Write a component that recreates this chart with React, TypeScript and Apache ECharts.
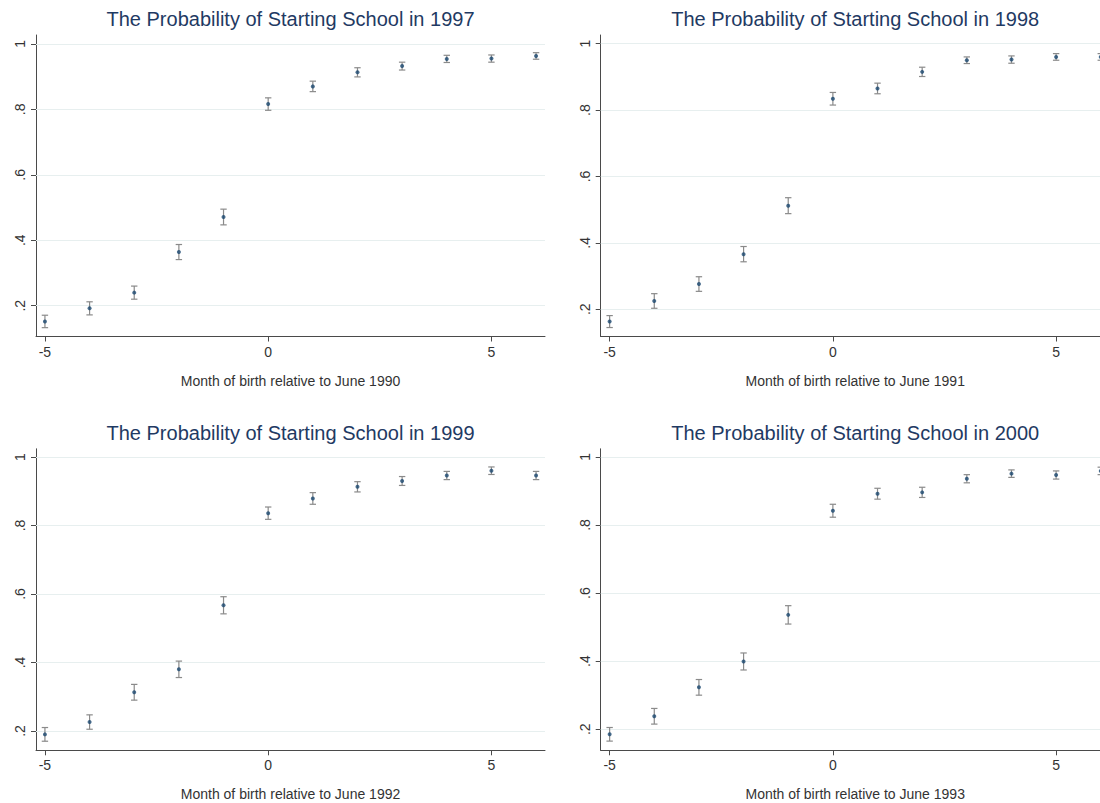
import React, { useEffect, useRef } from "react";
import * as echarts from "echarts";

// ---- data ----
const months = [-5, -4, -3, -2, -1, 0, 1, 2, 3, 4, 5, 6];
const startYears = ["1997", "1998", "1999", "2000"];
const birthYears = ["1990", "1991", "1992", "1993"];

const p1997 = [0.152, 0.192, 0.240, 0.364, 0.471, 0.816, 0.870, 0.913, 0.932, 0.954, 0.955, 0.963];
const ci1997 = [0.019, 0.020, 0.020, 0.023, 0.024, 0.019, 0.016, 0.014, 0.012, 0.011, 0.011, 0.010];
const p1998 = [0.163, 0.225, 0.276, 0.366, 0.512, 0.834, 0.865, 0.915, 0.950, 0.952, 0.960, 0.960];
const ci1998 = [0.018, 0.022, 0.022, 0.023, 0.024, 0.019, 0.016, 0.014, 0.010, 0.011, 0.010, 0.010];
const p1999 = [0.190, 0.226, 0.313, 0.380, 0.567, 0.836, 0.879, 0.913, 0.930, 0.946, 0.960, 0.946];
const ci1999 = [0.020, 0.021, 0.023, 0.024, 0.025, 0.018, 0.017, 0.015, 0.013, 0.012, 0.011, 0.012];
const p2000 = [0.185, 0.238, 0.323, 0.399, 0.536, 0.842, 0.892, 0.896, 0.936, 0.951, 0.947, 0.959];
const ci2000 = [0.020, 0.023, 0.023, 0.025, 0.027, 0.019, 0.016, 0.015, 0.012, 0.011, 0.012, 0.011];

const xTicks = [-5, 0, 5];
const yTicks = [0.2, 0.4, 0.6, 0.8, 1];

const probs = [p1997, p1998, p1999, p2000];
const cis = [ci1997, ci1998, ci1999, ci2000];

// ---- layout ----
const FONT = '"Liberation Sans", Arial, Helvetica, sans-serif';
const GRID_W = 509;
const GRID_H = 301.5;
const panels = [
  { left: 36, top: 35, yMin: 0.106, yMax: 1.027 },
  { left: 600.7, top: 35, yMin: 0.118, yMax: 1.026 },
  { left: 36, top: 448.8, yMin: 0.1435, yMax: 1.024 },
  { left: 600.7, top: 448.8, yMin: 0.138, yMax: 1.024 },
];

const AXIS_COLOR = "#4a4a4a";
const LABEL_COLOR = "#333333";
const GRIDLINE_COLOR = "#e7efef";
const BAR_COLOR = "#8a8a8a";
const DOT_COLOR = "#1a476f";
const TITLE_COLOR = "#1f3a63";

function fmtY(v: number): string {
  let s = Number(v).toFixed(1);
  if (s.endsWith(".0")) s = s.slice(0, -2);
  if (s.startsWith("0.")) s = s.slice(1);
  return s;
}

export default function App() {
  const ref = useRef<HTMLDivElement>(null);

  useEffect(() => {
    if (!ref.current) return;
    const chart = echarts.init(ref.current, null, { renderer: "svg" });

    const grids: any[] = [];
    const xAxes: any[] = [];
    const yAxes: any[] = [];
    const series: any[] = [];
    const graphics: any[] = [];

    panels.forEach((p, i) => {
      grids.push({
        left: p.left,
        top: p.top,
        width: GRID_W,
        height: GRID_H,
        containLabel: false,
        outerBoundsMode: "none",
      });
      xAxes.push({
        type: "value",
        gridIndex: i,
        min: -5.2,
        max: 6.2,
        name: `Month of birth relative to June ${birthYears[i]}`,
        nameLocation: "middle",
        nameGap: 37,
        nameTextStyle: { fontFamily: FONT, fontSize: 14, color: LABEL_COLOR },
        axisLine: { show: true, onZero: false, lineStyle: { color: AXIS_COLOR, width: 1 } },
        axisTick: { show: true, length: 5, customValues: xTicks, lineStyle: { color: AXIS_COLOR } },
        axisLabel: {
          customValues: xTicks,
          fontFamily: FONT,
          fontSize: 14,
          color: LABEL_COLOR,
          margin: 8,
          formatter: (v: number) => String(v),
        },
        splitLine: { show: false },
      });
      yAxes.push({
        type: "value",
        gridIndex: i,
        min: p.yMin,
        max: p.yMax,
        axisLine: { show: true, onZero: false, lineStyle: { color: AXIS_COLOR, width: 1 } },
        axisTick: { show: true, length: 5, customValues: yTicks, lineStyle: { color: AXIS_COLOR } },
        axisLabel: {
          customValues: yTicks,
          rotate: 90,
          fontFamily: FONT,
          fontSize: 14,
          color: LABEL_COLOR,
          margin: 9,
          formatter: (v: number) => fmtY(v),
        },
        splitLine: { show: false },
      });

      const data = months.map((m, k) => [m, probs[i][k], probs[i][k] - cis[i][k], probs[i][k] + cis[i][k]]);

      series.push({
        type: "custom",
        xAxisIndex: i,
        yAxisIndex: i,
        z: 2,
        silent: true,
        clip: false,
        data,
        renderItem: (_params: any, api: any) => {
          const x = api.value(0);
          const lo = api.value(2);
          const hi = api.value(3);
          const a = api.coord([x, lo]);
          const b = api.coord([x, hi]);
          const w = 3.2;
          const st = { stroke: BAR_COLOR, lineWidth: 1.2, fill: "none" };
          return {
            type: "group",
            children: [
              { type: "line", shape: { x1: a[0], y1: a[1], x2: b[0], y2: b[1] }, style: st },
              { type: "line", shape: { x1: a[0] - w, y1: a[1], x2: a[0] + w, y2: a[1] }, style: st },
              { type: "line", shape: { x1: b[0] - w, y1: b[1], x2: b[0] + w, y2: b[1] }, style: st },
            ],
          };
        },
        markLine: {
          silent: true,
          z: 1,
          symbol: ["none", "none"],
          label: { show: false },
          lineStyle: { color: GRIDLINE_COLOR, width: 1, type: "solid" },
          emphasis: { disabled: true },
          data: yTicks.map((v) => ({ yAxis: v })),
        },
      });

      series.push({
        type: "scatter",
        xAxisIndex: i,
        yAxisIndex: i,
        z: 3,
        silent: true,
        symbol: "circle",
        symbolSize: 4,
        itemStyle: { color: DOT_COLOR },
        data: months.map((m, k) => [m, probs[i][k]]),
      });

      graphics.push({
        type: "text",
        x: p.left + GRID_W / 2,
        y: p.top - 16,
        silent: true,
        style: {
          text: `The Probability of Starting School in ${startYears[i]}`,
          fill: TITLE_COLOR,
          font: `20px ${FONT}`,
          align: "center",
          verticalAlign: "middle",
        },
      });
    });

    chart.setOption({
      animation: false,
      backgroundColor: "#ffffff",
      grid: grids,
      xAxis: xAxes,
      yAxis: yAxes,
      series,
      graphic: graphics,
    });

    return () => chart.dispose();
  }, []);

  return (
    <div
      style={{
        position: "fixed",
        left: 0,
        top: 0,
        width: 1100,
        height: 803,
        overflow: "hidden",
        background: "#fff",
      }}
    >
      <div ref={ref} style={{ width: 1125, height: 803 }} />
    </div>
  );
}
